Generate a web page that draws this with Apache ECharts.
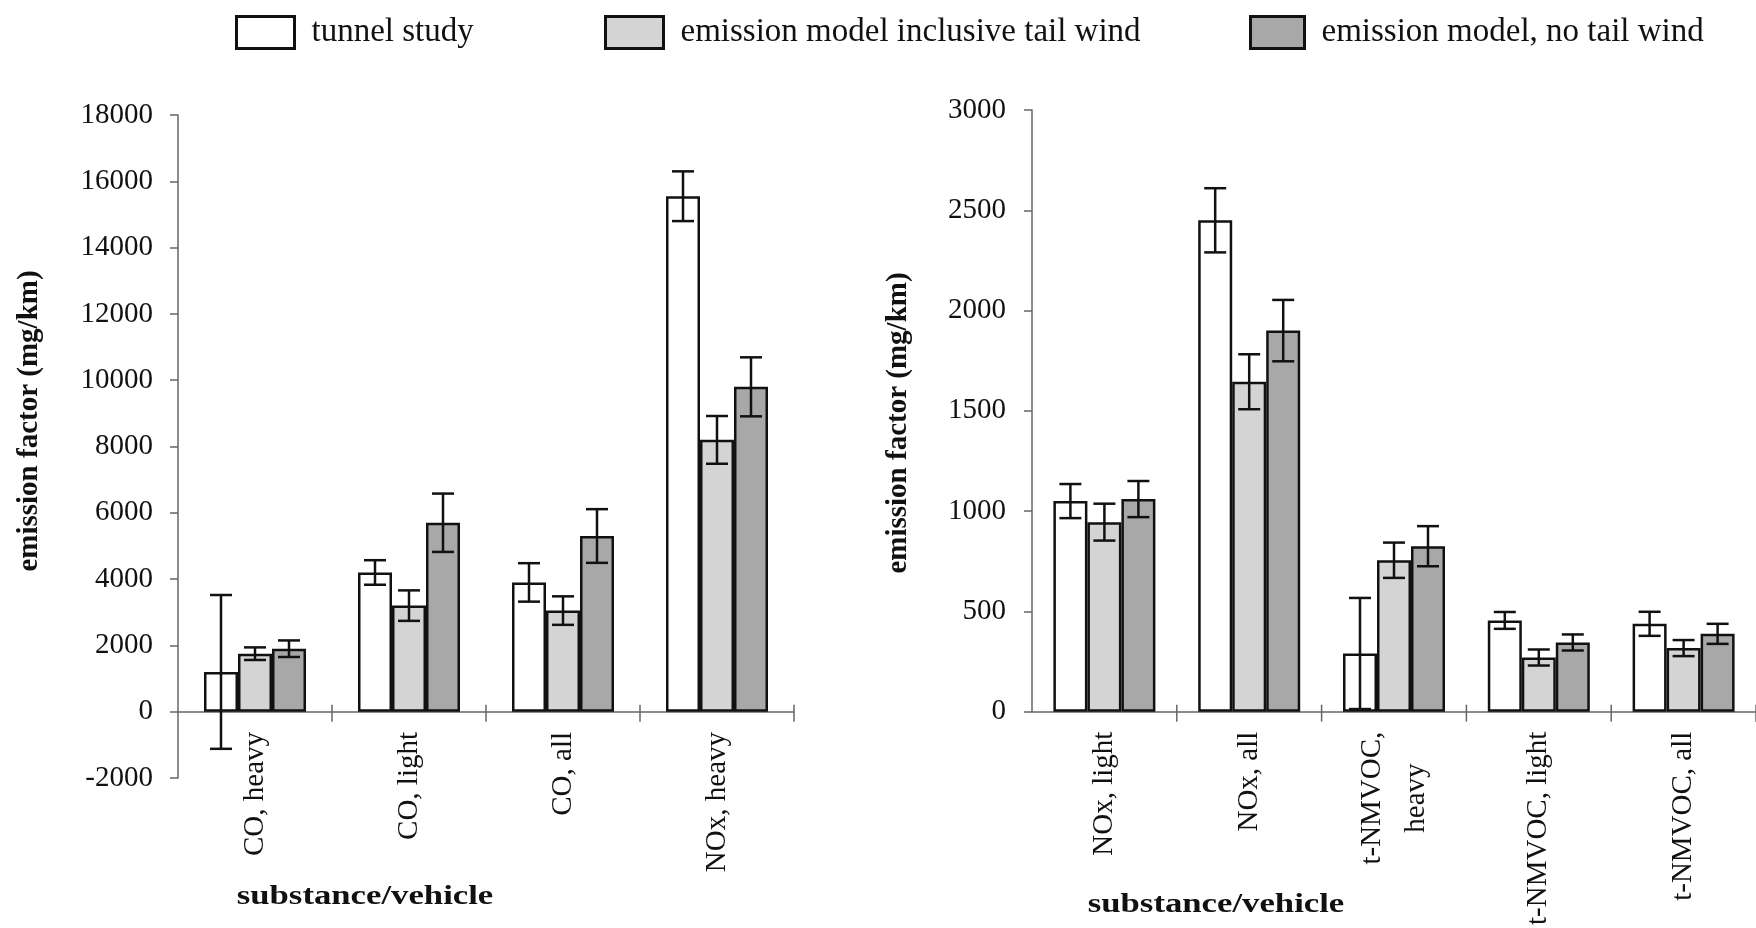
<!DOCTYPE html>
<html>
<head>
<meta charset="utf-8">
<script src="https://cdn.jsdelivr.net/npm/echarts@6/dist/echarts.min.js"></script>
<style>
html,body{margin:0;padding:0;background:#fff;}
#chart{width:1756px;height:928px;}
</style>
</head>
<body>
<div id="chart"></div>
<script>
// ---- data ----
const seriesNames = ['tunnel study', 'emission model inclusive tail wind', 'emission model, no tail wind'];

const categoriesLeft = ['CO, heavy', 'CO, light', 'CO, all', 'NOx, heavy'];
const tunnelLeft = [1200, 4200, 3900, 15550];
const tunnelLeftErr = [2320, 370, 580, 750];
const inclusiveLeft = [1750, 3200, 3050, 8200];
const inclusiveLeftErr = [190, 460, 430, 720];
const noWindLeft = [1900, 5700, 5300, 9800];
const noWindLeftErr = [250, 880, 810, 890];

const categoriesRight = ['NOx, light', 'NOx, all', 't-NMVOC,\nheavy', 't-NMVOC, light', 't-NMVOC, all'];
const tunnelRight = [1050, 2450, 290, 455, 438];
const tunnelRightErr = [85, 160, 277, 42, 60];
const inclusiveRight = [945, 1645, 755, 270, 317];
const inclusiveRightErr = [92, 137, 88, 40, 40];
const noWindRight = [1060, 1900, 825, 345, 388];
const noWindRightErr = [90, 153, 100, 40, 50];

const yLeftTicks = {min: -2000, max: 18000, interval: 2000};
const yRightTicks = {min: 0, max: 3000, interval: 500};

// ---- styling ----
const FONT = '"Liberation Serif", "Times New Roman", serif';
const fills = ['#ffffff', '#d4d4d4', '#a8a8a8'];
const BAR_W = 34;
const AXIS_COLOR = '#666';

const chart = echarts.init(document.getElementById('chart'), null, {renderer: 'canvas'});

function errRender(offsetIndex) {
  return function (params, api) {
    const cat = api.value(0);
    const lo = api.coord([cat, api.value(1)]);
    const hi = api.coord([cat, api.value(2)]);
    const x = lo[0] + (offsetIndex - 1) * BAR_W;
    const cap = 11;
    const st = {stroke: '#111', lineWidth: 2.5};
    return {
      type: 'group',
      children: [
        {type: 'line', shape: {x1: x, y1: lo[1], x2: x, y2: hi[1]}, style: st},
        {type: 'line', shape: {x1: x - cap, y1: hi[1], x2: x + cap, y2: hi[1]}, style: st},
        {type: 'line', shape: {x1: x - cap, y1: lo[1], x2: x + cap, y2: lo[1]}, style: st}
      ]
    };
  };
}
function errData(vals, errs) {
  return vals.map((v, i) => [i, v - errs[i], v + errs[i]]);
}

// category boundary ticks that cross the zero line
function tickRender(params, api) {
  const c = api.coord([api.value(0), 0]);
  const half = api.size([1, 0])[0] / 2;
  const x = c[0] + half;
  return {type: 'line', shape: {x1: x, y1: c[1] - 7, x2: x, y2: c[1] + 10},
          style: {stroke: AXIS_COLOR, lineWidth: 1.5}};
}

const labelRich = {a: {fontFamily: FONT, fontSize: 29, color: '#111', align: 'center', lineHeight: 44}};
function labelFormatter(v) { return v.split('\n').map(s => '{a|' + s + '}').join('\n'); }

function xAxisMain(gridIndex, cats, showLabels) {
  return {
    type: 'category', gridIndex, data: cats, position: 'bottom',
    axisLine: {show: true, onZero: true, lineStyle: {color: AXIS_COLOR, width: 1.5}},
    axisTick: {show: false},
    axisLabel: {show: showLabels, interval: 0, rotate: 90, margin: 20, color: '#111',
      formatter: labelFormatter, rich: labelRich},
    splitLine: {show: false}
  };
}
function xAxisLabelsOnly(gridIndex, cats) {
  return {
    type: 'category', gridIndex, data: cats, position: 'bottom',
    axisLine: {show: false}, axisTick: {show: false},
    axisLabel: {interval: 0, rotate: 90, margin: 20, color: '#111',
      formatter: labelFormatter, rich: labelRich},
    splitLine: {show: false}
  };
}
function yAxis(gridIndex, ticks, margin) {
  return {
    type: 'value', gridIndex, min: ticks.min, max: ticks.max, interval: ticks.interval,
    axisLine: {show: true, lineStyle: {color: AXIS_COLOR, width: 1.5}},
    axisTick: {show: true, length: 8, lineStyle: {color: AXIS_COLOR, width: 1.5}},
    axisLabel: {fontFamily: FONT, fontSize: 29, color: '#111', margin: margin, formatter: v => String(v)},
    splitLine: {show: false}
  };
}

function barSeries(name, idx, data, xi, yi) {
  return {
    type: 'bar', name, data, xAxisIndex: xi, yAxisIndex: yi,
    barWidth: BAR_W, barGap: '0%',
    itemStyle: {color: fills[idx], borderColor: '#111', borderWidth: 2.5},
    emphasis: {disabled: true}
  };
}
function errSeries(name, idx, vals, errs, xi, yi) {
  return {
    type: 'custom', name: name + ' error', xAxisIndex: xi, yAxisIndex: yi, z: 10,
    renderItem: errRender(idx), data: errData(vals, errs),
    encode: {x: 0, y: [1, 2]}, silent: true
  };
}
function tickSeries(cats, xi, yi) {
  return {
    type: 'custom', name: 'ticks', xAxisIndex: xi, yAxisIndex: yi, z: 5, silent: true,
    renderItem: tickRender, data: cats.map((c, i) => [i, 0]), encode: {x: 0, y: 1}
  };
}

const legendLefts = [230, 599, 1244];
const legendIconW = [58, 58, 54];
const legends = seriesNames.map((n, i) => ({
  data: [n], left: legendLefts[i], top: 10, selectedMode: false,
  itemWidth: legendIconW[i], itemHeight: 32, icon: 'rect',
  itemStyle: {borderColor: '#111', borderWidth: 3},
  textStyle: {fontFamily: FONT, fontSize: 33, color: '#111', padding: [0, 0, 0, 12]}
}));

const nameStyle = {fontFamily: FONT, fontSize: 28, fontWeight: 'bold', fill: '#111', align: 'center', verticalAlign: 'middle'};

const option = {
  backgroundColor: '#ffffff',
  animation: false,
  legend: legends,
  grid: [
    {left: 178, top: 115, width: 616, height: 663},
    {left: 1032, top: 110, width: 730, height: 603},
    {left: 178, top: 115, width: 616, height: 597}
  ],
  xAxis: [
    xAxisMain(0, categoriesLeft, false),
    xAxisMain(1, categoriesRight, true),
    xAxisLabelsOnly(2, categoriesLeft)
  ],
  yAxis: [
    yAxis(0, yLeftTicks, 25),
    yAxis(1, yRightTicks, 26),
    {type: 'value', gridIndex: 2, min: 0, max: 1, show: false}
  ],
  series: [
    barSeries(seriesNames[0], 0, tunnelLeft, 0, 0),
    barSeries(seriesNames[1], 1, inclusiveLeft, 0, 0),
    barSeries(seriesNames[2], 2, noWindLeft, 0, 0),
    errSeries(seriesNames[0], 0, tunnelLeft, tunnelLeftErr, 0, 0),
    errSeries(seriesNames[1], 1, inclusiveLeft, inclusiveLeftErr, 0, 0),
    errSeries(seriesNames[2], 2, noWindLeft, noWindLeftErr, 0, 0),
    tickSeries(categoriesLeft, 0, 0),
    barSeries(seriesNames[0], 0, tunnelRight, 1, 1),
    barSeries(seriesNames[1], 1, inclusiveRight, 1, 1),
    barSeries(seriesNames[2], 2, noWindRight, 1, 1),
    errSeries(seriesNames[0], 0, tunnelRight, tunnelRightErr, 1, 1),
    errSeries(seriesNames[1], 1, inclusiveRight, inclusiveRightErr, 1, 1),
    errSeries(seriesNames[2], 2, noWindRight, noWindRightErr, 1, 1),
    tickSeries(categoriesRight, 1, 1)
  ],
  graphic: [
    {type: 'text', x: 365, y: 897, scaleX: 1.24, style: Object.assign({text: 'substance/vehicle'}, nameStyle)},
    {type: 'text', x: 1216, y: 905, scaleX: 1.24, style: Object.assign({text: 'substance/vehicle'}, nameStyle)},
    {type: 'text', x: 30, y: 421, rotation: Math.PI / 2, style: Object.assign({text: 'emission factor (mg/km)'}, nameStyle, {fontSize: 29})},
    {type: 'text', x: 899, y: 423, rotation: Math.PI / 2, style: Object.assign({text: 'emission factor (mg/km)'}, nameStyle, {fontSize: 29})}
  ]
};
chart.setOption(option);
</script>
</body>
</html>
